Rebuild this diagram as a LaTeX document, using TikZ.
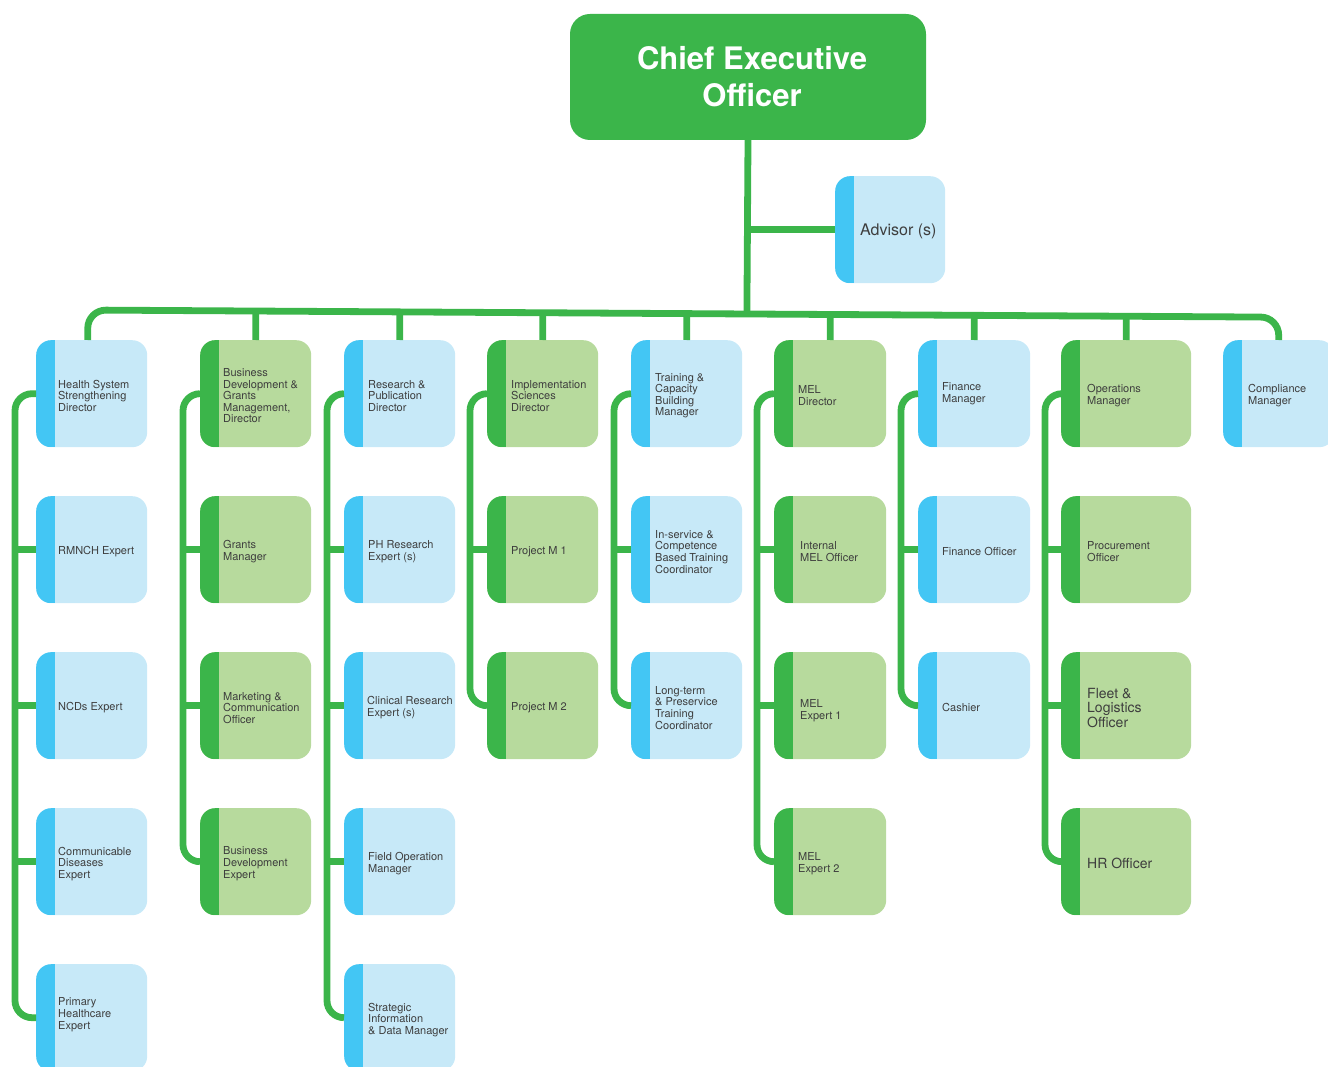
\documentclass[tikz,border=0pt]{standalone}
\usepackage{fontspec}
\setmainfont{TeX Gyre Heros}
\usetikzlibrary{calc}
\definecolor{lblue}{HTML}{C7E9F8}
\definecolor{sblue}{HTML}{43C6F4}
\definecolor{lgreen}{HTML}{B7DA9D}
\definecolor{dgreen}{HTML}{3BB54A}
\definecolor{txt}{HTML}{3E3E3E}
\tikzset{
  card/.style 2 args={draw=none, fill=#1, rounded corners=15, minimum width=111, minimum height=107,
    inner sep=0, anchor=north west,
    path picture={\fill[#2, sharp corners] (path picture bounding box.south west) rectangle ([xshift=19]path picture bounding box.north west);}},
  bcard/.style={card={lblue}{sblue}},
  gcard/.style={card={lgreen}{dgreen}},
  lbl/.style={anchor=west, align=left, inner sep=0, yshift=-2, text=txt, font=\fontsize{11}{11.6}\selectfont},
  biglbl/.style={lbl, font=\fontsize{14}{14.5}\selectfont},
  conn/.style={draw=dgreen, line width=6.8},
  ceobox/.style={fill=dgreen, rounded corners=20, minimum width=356, minimum height=126, inner sep=0,
    text=white, align=center, font=\fontsize{31}{37}\selectfont\bfseries}
}
\begin{document}
\begin{tikzpicture}[x=1pt,y=-1pt]
\useasboundingbox (0,0) rectangle (1328,1067);
\clip (0,0) rectangle (1328,1067);
% CEO and advisor
\node[ceobox] (ceo) at (748,77) {\hspace*{8pt}Chief Executive\\\hspace*{8pt}Officer};
\node[bcard, minimum width=110] (adv) at (835,176) {};
\node[lbl, font=\fontsize{16}{18}\selectfont] (tadv) at ([xshift=25]adv.west) {Advisor (s)};
% column 1
\node[bcard] (c1r1) at (36,340) {};
\node[bcard] (c1r2) at (36,496) {};
\node[bcard] (c1r3) at (36,652) {};
\node[bcard] (c1r4) at (36,808) {};
\node[bcard] (c1r5) at (36,964) {};
\node[lbl] (t1r1) at ([xshift=22]c1r1.west) {Health System\\Strengthening\\Director};
\node[lbl] (t1r2) at ([xshift=22]c1r2.west) {RMNCH Expert};
\node[lbl] (t1r3) at ([xshift=22]c1r3.west) {NCDs Expert};
\node[lbl] (t1r4) at ([xshift=22]c1r4.west) {Communicable\\Diseases\\Expert};
\node[lbl] (t1r5) at ([xshift=22,yshift=5]c1r5.west) {Primary\\Healthcare\\Expert};
% column 2
\node[gcard] (c2r1) at (200,340) {};
\node[gcard] (c2r2) at (200,496) {};
\node[gcard] (c2r3) at (200,652) {};
\node[gcard] (c2r4) at (200,808) {};
\node[lbl] (t2r1) at ([xshift=23]c2r1.west) {Business\\Development \&\\Grants\\Management,\\Director};
\node[lbl] (t2r2) at ([xshift=23]c2r2.west) {Grants\\Manager};
\node[lbl] (t2r3) at ([xshift=23]c2r3.west) {Marketing \&\\Communication\\Officer};
\node[lbl] (t2r4) at ([xshift=23]c2r4.west) {Business\\Development\\Expert};
% column 3
\node[bcard] (c3r1) at (344,340) {};
\node[bcard] (c3r2) at (344,496) {};
\node[bcard] (c3r3) at (344,652) {};
\node[bcard] (c3r4) at (344,808) {};
\node[bcard] (c3r5) at (344,964) {};
\node[lbl] (t3r1) at ([xshift=24]c3r1.west) {Research \&\\Publication\\Director};
\node[lbl] (t3r2) at ([xshift=24]c3r2.west) {PH Research\\Expert (s)};
\node[lbl] (t3r3) at ([xshift=23]c3r3.west) {Clinical Research\\Expert (s)};
\node[lbl] (t3r4) at ([xshift=24]c3r4.west) {Field Operation\\Manager};
\node[lbl] (t3r5) at ([xshift=24]c3r5.west) {Strategic\\Information\\\& Data Manager};
% column 4
\node[gcard] (c4r1) at (487,340) {};
\node[gcard] (c4r2) at (487,496) {};
\node[gcard] (c4r3) at (487,652) {};
\node[lbl] (t4r1) at ([xshift=24]c4r1.west) {Implementation\\Sciences\\Director};
\node[lbl] (t4r2) at ([xshift=24]c4r2.west) {Project M 1};
\node[lbl] (t4r3) at ([xshift=24]c4r3.west) {Project M 2};
% column 5
\node[bcard] (c5r1) at (631,340) {};
\node[bcard] (c5r2) at (631,496) {};
\node[bcard] (c5r3) at (631,652) {};
\node[lbl] (t5r1) at ([xshift=24]c5r1.west) {Training \&\\Capacity\\Building\\Manager};
\node[lbl] (t5r2) at ([xshift=24]c5r2.west) {In-service \&\\Competence\\Based Training\\Coordinator};
\node[lbl] (t5r3) at ([xshift=24]c5r3.west) {Long-term\\\& Preservice\\Training\\Coordinator};
% column 6
\node[gcard, minimum width=112] (c6r1) at (774,340) {};
\node[gcard, minimum width=112] (c6r2) at (774,496) {};
\node[gcard, minimum width=112] (c6r3) at (774,652) {};
\node[gcard, minimum width=112] (c6r4) at (774,808) {};
\node[lbl] (t6r1) at ([xshift=24]c6r1.west) {MEL\\Director};
\node[lbl] (t6r2) at ([xshift=26]c6r2.west) {Internal\\MEL Officer};
\node[lbl] (t6r3) at ([xshift=26,yshift=-3]c6r3.west) {MEL\\Expert 1};
\node[lbl] (t6r4) at ([xshift=24]c6r4.west) {MEL\\Expert 2};
% column 7
\node[bcard, minimum width=112] (c7r1) at (918,340) {};
\node[bcard, minimum width=112] (c7r2) at (918,496) {};
\node[bcard, minimum width=112] (c7r3) at (918,652) {};
\node[lbl] (t7r1) at ([xshift=24,yshift=2]c7r1.west) {Finance\\Manager};
\node[lbl] (t7r2) at ([xshift=24]c7r2.west) {Finance Officer};
\node[lbl] (t7r3) at ([xshift=24]c7r3.west) {Cashier};
% column 8
\node[gcard, minimum width=130] (c8r1) at (1061,340) {};
\node[gcard, minimum width=130] (c8r2) at (1061,496) {};
\node[gcard, minimum width=130] (c8r3) at (1061,652) {};
\node[gcard, minimum width=130] (c8r4) at (1061,808) {};
\node[lbl] (t8r1) at ([xshift=26]c8r1.west) {Operations\\Manager};
\node[lbl] (t8r2) at ([xshift=26]c8r2.west) {Procurement\\Officer};
\node[biglbl] (t8r3) at ([xshift=26]c8r3.west) {Fleet \&\\Logistics\\Officer};
\node[biglbl] (t8r4) at ([xshift=26]c8r4.west) {HR Officer};
% column 9
\node[bcard] (c9r1) at (1223,340) {};
\node[lbl] (t9r1) at ([xshift=25]c9r1.west) {Compliance\\Manager};
% bus
\coordinate (bA) at (0,309.5);
\coordinate (bB) at (1328,317.5);
\coordinate (d1) at ([xshift=-4]c1r1.north);
\draw[conn, rounded corners=18] (d1) -- ($(bA)!(d1)!(bB)$) -- ($(bA)!(c9r1.north)!(bB)$) -- (c9r1.north);
\foreach \n in {c2r1,c3r1,c4r1,c5r1,c6r1,c7r1,c8r1}{
  \draw[conn] (\n.north) -- ($(bA)!(\n.north)!(bB)$);
}
\draw[conn] (ceo.south) -- ($(bA)!(ceo.south)!(bB)$);
\draw[conn] (adv.west) -- (adv.west -| ceo.south);
% column branches
\draw[conn, rounded corners=17] (c1r1.west) -| ([xshift=-21]c1r5.west) -- (c1r5.west);
\foreach \n in {c1r2,c1r3,c1r4}{\draw[conn] (\n.west) -- ++(-21,0);}
\draw[conn, rounded corners=17] (c2r1.west) -| ([xshift=-17]c2r4.west) -- (c2r4.west);
\foreach \n in {c2r2,c2r3}{\draw[conn] (\n.west) -- ++(-17,0);}
\draw[conn, rounded corners=17] (c3r1.west) -| ([xshift=-17]c3r5.west) -- (c3r5.west);
\foreach \n in {c3r2,c3r3,c3r4}{\draw[conn] (\n.west) -- ++(-17,0);}
\draw[conn, rounded corners=17] (c4r1.west) -| ([xshift=-17]c4r3.west) -- (c4r3.west);
\draw[conn] (c4r2.west) -- ++(-17,0);
\draw[conn, rounded corners=17] (c5r1.west) -| ([xshift=-17]c5r3.west) -- (c5r3.west);
\draw[conn] (c5r2.west) -- ++(-17,0);
\draw[conn, rounded corners=17] (c6r1.west) -| ([xshift=-17]c6r4.west) -- (c6r4.west);
\foreach \n in {c6r2,c6r3}{\draw[conn] (\n.west) -- ++(-17,0);}
\draw[conn, rounded corners=17] (c7r1.west) -| ([xshift=-17]c7r3.west) -- (c7r3.west);
\draw[conn] (c7r2.west) -- ++(-17,0);
\draw[conn, rounded corners=17] (c8r1.west) -| ([xshift=-16]c8r4.west) -- (c8r4.west);
\foreach \n in {c8r2,c8r3}{\draw[conn] (\n.west) -- ++(-16,0);}
\end{tikzpicture}
\end{document}
